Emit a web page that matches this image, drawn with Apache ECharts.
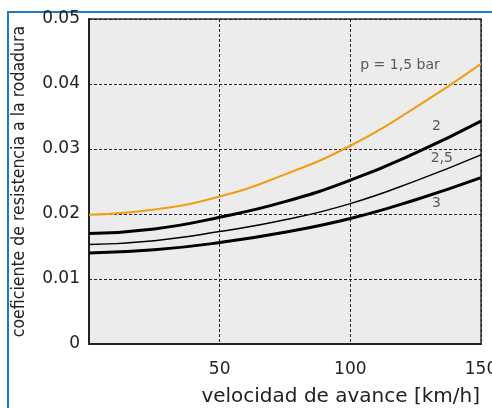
<!DOCTYPE html>
<html>
<head>
<meta charset="utf-8">
<script src="https://cdn.jsdelivr.net/npm/echarts@6/dist/echarts.min.js"></script>
<style>
  html, body { margin: 0; padding: 0; background: #fff; }
  #chart { width: 492px; height: 408px; }
</style>
</head>
<body>
<div id="chart"></div>
<script>
// velocidad [km/h]
const speeds = [0, 25, 50, 75, 100, 125, 150]
// coeficiente de resistencia a la rodadura, por presión
const p15 = [0.0199, 0.0207, 0.0227, 0.0261, 0.0305, 0.0364, 0.0431]
const p2 = [0.0170, 0.0177, 0.0195, 0.0219, 0.0252, 0.0294, 0.0343]
const p25 = [0.0153, 0.0159, 0.0173, 0.0191, 0.0216, 0.0251, 0.0291]
const p3 = [0.0140, 0.0145, 0.0156, 0.0172, 0.0193, 0.0222, 0.0256]

const curveLabels = ['p = 1,5 bar', '2', '2,5', '3']
const labelX = [119, 133, 135, 133]
const labelY = [0.0428, 0.0335, 0.0286, 0.0217]

const font = 'DejaVu Sans'
const pairs = (vals) => speeds.map((s, i) => [s, vals[i]])

const chart = echarts.init(document.getElementById('chart'))

const dashed = { lineStyle: { color: '#222', width: 1, type: [3, 2] } }

const curve = (vals, color, width) => ({
  type: 'line',
  data: pairs(vals),
  smooth: true,
  symbol: 'none',
  lineStyle: { color, width },
  z: 3,
})

chart.setOption({
  animation: false,
  graphic: [
    {
      type: 'rect',
      shape: { x: 8, y: 12, width: 520, height: 440 },
      style: { fill: null, stroke: '#1f78c8', lineWidth: 2 },
      silent: true,
    },
  ],
  grid: {
    left: 89,
    top: 19,
    right: 11,
    bottom: 64,
    outerBoundsMode: 'none',
    containLabel: false,
    show: true,
    backgroundColor: '#ececec',
    borderColor: '#333',
    borderWidth: 1.5,
  },
  xAxis: {
    type: 'value',
    min: 0,
    max: 150,
    interval: 50,
    name: 'velocidad de avance [km/h]',
    nameLocation: 'end',
    nameGap: -1,
    nameTextStyle: {
      align: 'right',
      verticalAlign: 'top',
      padding: [43, 0, 0, 0],
      fontSize: 20,
      fontFamily: font,
      color: '#222',
    },
    axisLine: { lineStyle: { color: '#222', width: 2 } },
    axisTick: { show: false },
    axisLabel: {
      showMinLabel: false,
      margin: 17,
      fontSize: 17,
      fontFamily: font,
      color: '#222',
    },
    splitLine: { show: true, ...dashed },
  },
  yAxis: {
    type: 'value',
    min: 0,
    max: 0.05,
    interval: 0.01,
    name: 'coeficiente de resistencia a la rodadura',
    nameLocation: 'middle',
    nameGap: 61,
    nameTextStyle: {
      fontSize: 17.5,
      fontFamily: 'DejaVu Sans Condensed',
      color: '#222',
    },
    axisLine: { show: true, lineStyle: { color: '#222', width: 2 } },
    axisTick: { show: false },
    axisLabel: {
      margin: 9,
      fontSize: 17,
      fontFamily: font,
      color: '#222',
      formatter: (v) => (v === 0 ? '0' : v.toFixed(2)),
    },
    splitLine: { show: true, ...dashed },
  },
  series: [
    { ...curve(p15, '#f39c12', 2), z: 4 },
    curve(p2, '#000', 3),
    curve(p25, '#000', 1.5),
    curve(p3, '#000', 3),
    {
      type: 'scatter',
      data: curveLabels.map((t, i) => ({ name: t, value: [labelX[i], labelY[i]] })),
      symbolSize: 1,
      itemStyle: { color: 'rgba(0,0,0,0)' },
      silent: true,
      z: 5,
      label: {
        show: true,
        position: 'inside',
        fontSize: 14,
        fontFamily: font,
        color: '#333',
        formatter: (p) => p.name,
      },
    },
  ],
})
</script>
</body>
</html>
